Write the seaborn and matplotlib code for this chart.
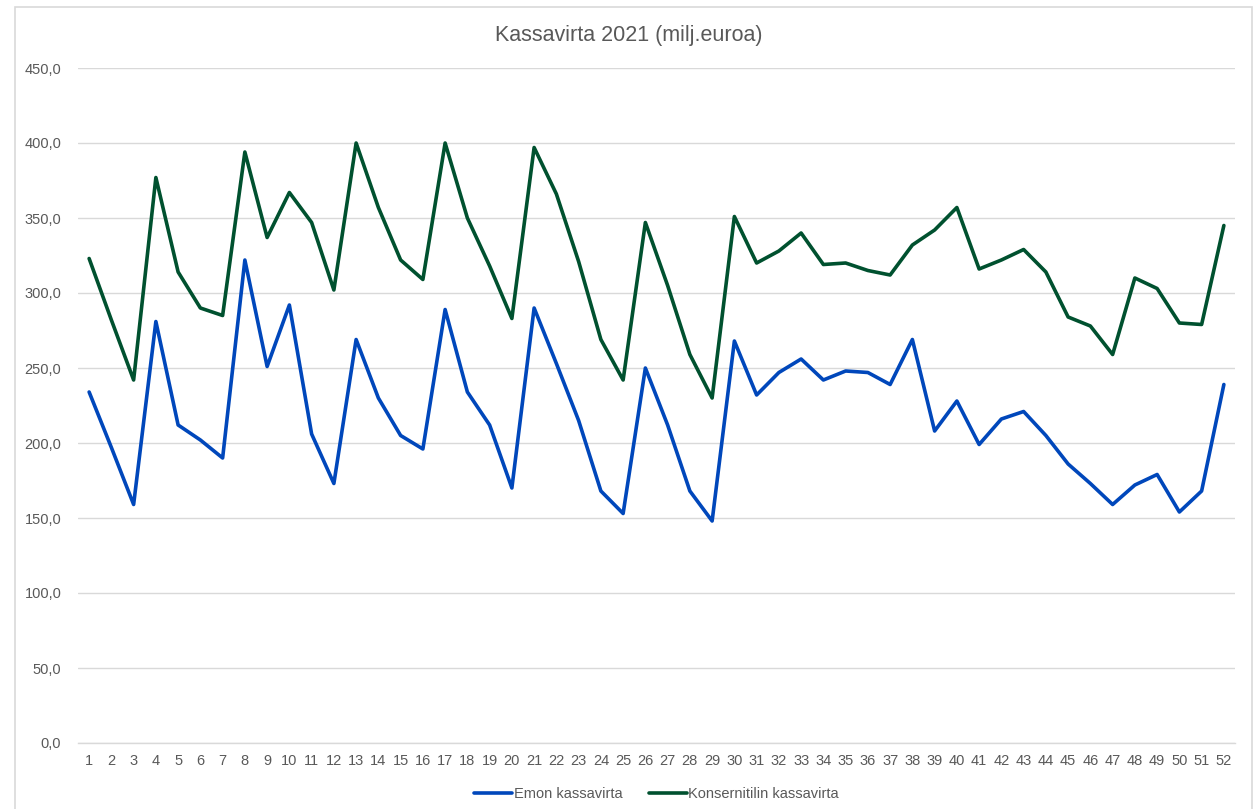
import matplotlib
matplotlib.use("Agg")
import matplotlib.pyplot as plt
from matplotlib.patches import Rectangle
from matplotlib.ticker import FuncFormatter
import seaborn as sns
import pandas as pd

# Weekly cash flow 2021, million euros
weeks = list(range(1, 53))
emon = [234, 197, 159, 281, 212, 202, 190, 322, 251, 292,
        206, 173, 269, 230, 205, 196, 289, 234, 212, 170,
        290, 253, 215, 168, 153, 250, 212, 168, 148, 268,
        232, 247, 256, 242, 248, 247, 239, 269, 208, 228,
        199, 216, 221, 205, 186, 173, 159, 172, 179, 154,
        168, 239]
konserni = [323, 282, 242, 377, 314, 290, 285, 394, 337, 367,
            347, 302, 400, 357, 322, 309, 400, 350, 318, 283,
            397, 366, 321, 269, 242, 347, 305, 259, 230, 351,
            320, 328, 340, 319, 320, 315, 312, 332, 342, 357,
            316, 322, 329, 314, 284, 278, 259, 310, 303, 280,
            279, 345]
series_names = ["Emon kassavirta", "Konsernitilin kassavirta"]
series_colors = ["#0047BB", "#00512F"]
y_ticks = [0, 50, 100, 150, 200, 250, 300, 350, 400, 450]
title = "Kassavirta 2021 (milj.euroa)"

df = pd.DataFrame({
    "Viikko": weeks * 2,
    "Arvo": emon + konserni,
    "Sarja": [series_names[0]] * len(weeks) + [series_names[1]] * len(weeks),
})

sns.set_theme(style="white")
plt.rcParams["font.family"] = ["Liberation Sans", "DejaVu Sans"]

fig = plt.figure(figsize=(12.58, 8.09), dpi=100)
ax = fig.add_axes([78 / 1258, 1 - 743 / 809, (1235 - 78) / 1258, (743 - 68) / 809])

# light chart-area frame
fig.patches.append(Rectangle((15 / 1258, -0.05), (1252 - 15) / 1258, 1 - 7 / 809 + 0.05,
                             transform=fig.transFigure, fill=False,
                             edgecolor="#D9D9D9", linewidth=1.2, zorder=0))

sns.lineplot(data=df, x="Viikko", y="Arvo", hue="Sarja",
             palette=dict(zip(series_names, series_colors)),
             linewidth=2.6, ax=ax, legend=True)

ax.set_xlim(0.5, 52.5)
ax.set_ylim(0, 450)
ax.set_xticks(weeks)
ax.set_xticklabels([str(w) for w in weeks])
ax.set_yticks(y_ticks)
ax.yaxis.set_major_formatter(FuncFormatter(lambda v, p: f"{v:.1f}".replace(".", ",")))
ax.grid(axis="y", color="#D9D9D9", linewidth=1.0)
ax.grid(axis="x", visible=False)
for s in ["top", "right", "left"]:
    ax.spines[s].set_visible(False)
ax.spines["bottom"].set_color("#D9D9D9")
ax.spines["bottom"].set_linewidth(1.0)
ax.tick_params(axis="both", length=0, colors="#595959", labelsize=10.5)
ax.tick_params(axis="y", pad=12)
ax.tick_params(axis="x", pad=8)
ax.set_xlabel("")
ax.set_ylabel("")

fig.text(0.5, 1 - 36 / 809, title, ha="center", va="center",
         fontsize=15.5, color="#595959")

sns.move_legend(ax, "center", bbox_to_anchor=(0.5, (743 - 794) / 675 ),
                ncol=2, frameon=False, title=None, fontsize=10.5,
                handlelength=2.6, handletextpad=0.1, columnspacing=1.8)
for t in ax.get_legend().get_texts():
    t.set_color("#595959")

fig.savefig("out.png", dpi=100, facecolor="white")
